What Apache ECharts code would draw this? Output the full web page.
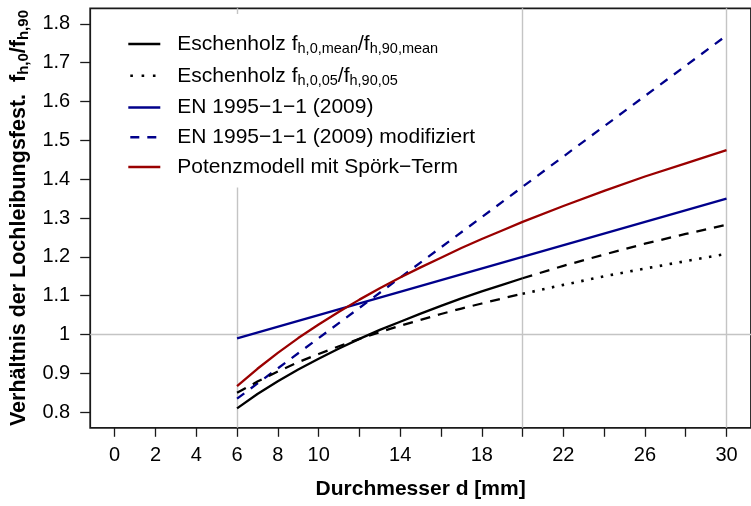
<!DOCTYPE html>
<html>
<head>
<meta charset="utf-8">
<script src="https://cdn.jsdelivr.net/npm/echarts@6/dist/echarts.min.js"></script>
<style>html,body{margin:0;padding:0;background:#fff;}#c{width:751px;height:506px;}</style>
</head>
<body>
<div id="c"></div>
<script>
// ---- data ----
const dRange = [6,7,8,9,10,11,12,13,14,15,16,17,18,19,20];
const meanRange = [0.810,0.847,0.880,0.910,0.938,0.964,0.989,1.012,1.033,1.054,1.074,1.093,1.111,1.128,1.145];
const p05Range = [0.850,0.879,0.905,0.929,0.950,0.970,0.989,1.006,1.023,1.038,1.053,1.067,1.080,1.093,1.105];
const dExt = [20,22,24,26,28,30];
const meanExt = [1.145,1.177,1.206,1.234,1.259,1.283];
const p05Ext = [1.105,1.128,1.150,1.170,1.189,1.208];
const dAll = [6,7,8,9,10,11,12,13,14,15,16,17,18,19,20,22,24,26,28,30];
const potenz = [0.867,0.912,0.953,0.991,1.026,1.059,1.090,1.119,1.147,1.173,1.198,1.223,1.246,1.268,1.290,1.331,1.370,1.407,1.441,1.475];
const dLin = [6,30];
const en = [0.99,1.35];
const enMod = [0.835,1.77];
const refX = [6,20,30];
const refY = [1];
const xTicks = [0,2,4,6,8,10,12,14,16,18,20,22,24,26,28,30];
const xLabels = [0,2,4,6,8,10,14,18,22,26,30];
const yTicks = [0.8,0.9,1.0,1.1,1.2,1.3,1.4,1.5,1.6,1.7,1.8];
const legendNames = ['mean','p05','en','enmod','potenz'];
const legendText = {
  mean: '{t|Eschenholz f}{s|h,0,mean}{t|/f}{s|h,90,mean}',
  p05: '{t|Eschenholz f}{s|h,0,05}{t|/f}{s|h,90,05}',
  en: '{t|EN 1995\u22121\u22121 (2009)}',
  enmod: '{t|EN 1995\u22121\u22121 (2009) modifiziert}',
  potenz: '{t|Potenzmodell mit Spörk\u2212Term}'
};

const zip = (xs, ys) => xs.map((x, i) => [x, ys[i]]);
const FONT = 'Liberation Sans, Arial, Helvetica, sans-serif';
const BLACK = '#000000', BLUE = '#00008B', RED = '#9a0000';
const LW = 2.3;

function line(name, xs, ys, color, type, extra) {
  return Object.assign({
    name: name, type: 'line', data: zip(xs, ys), symbol: 'none', z: 2,
    lineStyle: { color: color, width: LW, type: type, cap: 'butt' },
    itemStyle: { color: color }, silent: true
  }, extra || {});
}

const legendData = legendNames.map(n => n === 'p05'
  ? { name: n, lineStyle: { type: [2.6, 8.7], dashOffset: -2, width: 2.6 } }
  : { name: n });

const chart = echarts.init(document.getElementById('c'), null, { renderer: 'canvas' });
chart.setOption({
  animation: false,
  textStyle: { fontFamily: FONT },
  grid: { left: 89.5, top: 8.3, width: 672, height: 419.5, show: true,
          borderColor: '#1a1a1a', borderWidth: 1.8, backgroundColor: 'transparent' },
  legend: {
    data: legendData, orient: 'vertical', left: 112, top: 14,
    padding: [19.5, 12, 10, 15], itemGap: 8.75, itemWidth: 32, itemHeight: 14,
    backgroundColor: '#ffffff', z: 4,
    lineStyle: { width: LW },
    itemStyle: { color: 'rgba(0,0,0,0)', borderColor: 'rgba(0,0,0,0)', borderWidth: 0, opacity: 0 },
    formatter: n => legendText[n],
    textStyle: { color: '#000', fontFamily: FONT, padding: [0, 0, 0, 12],
      rich: {
        t: { fontSize: 21, lineHeight: 24, color: '#000', fontFamily: FONT },
        s: { fontSize: 14.5, color: '#000', fontFamily: FONT, padding: [10, 0, 0, 0] }
      } }
  },
  xAxis: {
    type: 'value', min: -1.2, max: 31.2,
    axisLine: { show: false, onZero: false },
    axisTick: { show: true, length: 9, inside: false, customValues: xTicks,
                lineStyle: { color: '#1a1a1a', width: 1.3 } },
    axisLabel: { customValues: xLabels, fontSize: 20, color: '#000', margin: 18, fontFamily: FONT },
    splitLine: { show: false },
    name: 'Durchmesser d [mm]', nameLocation: 'middle', nameGap: 51,
    nameTextStyle: { fontSize: 21, fontWeight: 'bold', color: '#000', fontFamily: FONT }
  },
  yAxis: {
    type: 'value', min: 0.76, max: 1.84,
    axisLine: { show: false, onZero: false },
    axisTick: { show: true, length: 10, inside: false, customValues: yTicks,
                lineStyle: { color: '#1a1a1a', width: 1.3 } },
    axisLabel: { customValues: yTicks, fontSize: 20, color: '#000', margin: 20, fontFamily: FONT,
                 formatter: v => String(Math.round(v * 10) / 10) },
    splitLine: { show: false },
    name: '{b|Verhältnis der Lochleibungsfest.  f}{s|h,0}{b|/f}{s|h,90}',
    nameLocation: 'middle', nameGap: 57, nameRotate: 90,
    nameTextStyle: { color: '#000', fontFamily: FONT,
      rich: {
        b: { fontSize: 21.5, fontWeight: 'bold', lineHeight: 24, color: '#000', fontFamily: FONT },
        s: { fontSize: 15, fontWeight: 'bold', color: '#000', fontFamily: FONT, padding: [10, 0, 0, 0] }
      } }
  },
  series: [
    { name: 'refs', type: 'line', data: [], symbol: 'none', silent: true, z: 1,
      markLine: { silent: true, z: 1, symbol: ['none', 'none'], animation: false,
        label: { show: false },
        lineStyle: { color: '#c4c4c4', width: 1.4, type: 'solid' },
        emphasis: { disabled: true },
        data: refX.map(v => ({ xAxis: v })).concat(refY.map(v => ({ yAxis: v }))) } },
    line('mean', dRange, meanRange, BLACK, 'solid'),
    line('p05', dExt, p05Ext, BLACK, [2.5, 7.5], { lineStyle: { color: BLACK, width: 2.6, type: [2.5, 7.5], cap: 'butt' } }),
    line('en', dLin, en, BLUE, 'solid'),
    line('enmod', dLin, enMod, BLUE, [9, 8]),
    line('potenz', dAll, potenz, RED, 'solid'),
    line('meanExt', dExt, meanExt, BLACK, [10, 8]),
    line('p05Range', dRange, p05Range, BLACK, [10, 8])
  ]
});
</script>
</body>
</html>
